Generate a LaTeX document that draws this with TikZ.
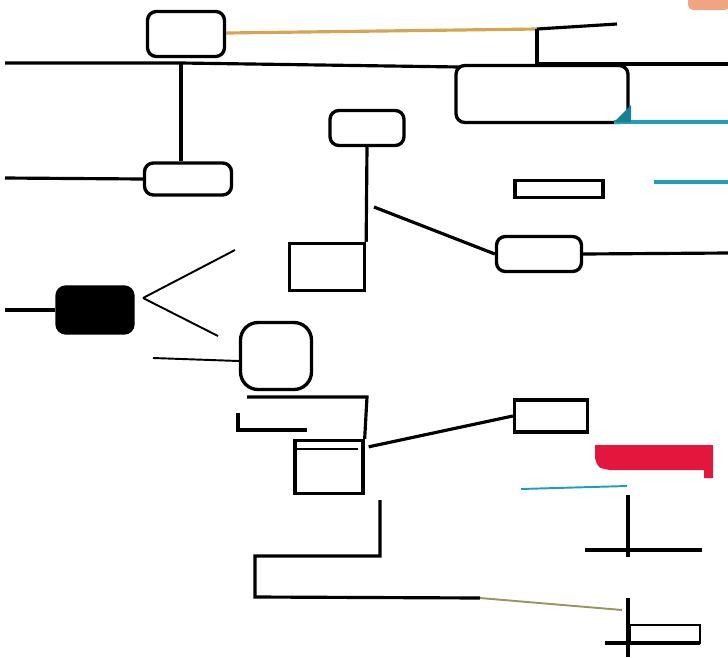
\documentclass[tikz,border=0pt]{standalone}
\usetikzlibrary{positioning,calc}
\definecolor{WireTeal}{RGB}{30,160,182}
\definecolor{WireRed}{RGB}{228,22,62}
\definecolor{WireOrange}{RGB}{214,165,80}
\definecolor{WireOlive}{RGB}{150,150,95}
\definecolor{TagPeach}{RGB}{240,165,130}
\tikzset{rbox/.style={draw, line width=1.9pt, rounded corners=5pt, inner sep=0pt},
	sbox/.style={draw, line width=1.9pt, inner sep=0pt},
	wire/.style={line width=1.8pt},
	fine/.style={line width=1.1pt}}

\begin{document}
\begin{tikzpicture}[x=0.02cm,y=-0.02cm]
	\useasboundingbox (0,0) rectangle (728,657);
	\fill[TagPeach, rounded corners=3pt] (688,-4) rectangle (730,10);
	% boxes
	\node[rbox, minimum width=1.54cm, minimum height=0.9cm] (router) at (186,34) {};
	\node[rbox, minimum width=1.74cm, minimum height=0.64cm] (hub) at (188,179) {};
	\node[rbox, minimum width=1.48cm, minimum height=0.7cm] (relay) at (367,128) {};
	\node[sbox, minimum width=1.5cm, minimum height=0.94cm] (panel) at (327,267) {};
	\node[rbox, minimum width=3.44cm, minimum height=1.14cm] (rack) at (542,94) {};
	\node[sbox, minimum width=1.76cm, minimum height=0.34cm] (slot) at (559,189) {};
	\node[rbox, minimum width=1.7cm, minimum height=0.7cm] (switch) at (539,254) {};
	\node[rbox, fill=black, minimum width=1.52cm, minimum height=0.92cm] (source) at (95,310) {};
	\node[rbox, rounded corners=10pt, minimum width=1.42cm, minimum height=1.34cm] (cloud) at (276,356) {};
	\node[sbox, minimum width=1.36cm, minimum height=1.06cm] (unit) at (329,467) {};
	\node[sbox, minimum width=1.46cm, minimum height=0.64cm] (tag) at (551,416) {};
	% free ends
	\coordinate (w1) at (5,63); \coordinate (w2) at (5,178); \coordinate (w3) at (5,310);
	\coordinate (bend) at (537,64); \coordinate (fork) at (143,298); \coordinate (knee) at (374,207);
	% wires
	\draw[wire] (w1) -- (181,63) -- (460,67);
	\draw[wire, WireOrange] (router.east |- 0,33) -- (537,29);
	\draw[wire] (537,29) -- (617,24);
	\draw[wire] (537,29) -- (bend) -- (728,64);
	\draw[wire] (181,63) -- (hub.north -| 181,0);
	\draw[wire] (w2) -- (hub.west);
	\draw[wire] (w3) -- (source.west);
	\draw[wire] (relay.south) -- (panel.north east);
	\draw[wire] (knee) -- (switch.west);
	\draw[wire] (switch.east) -- (728,253);
	\draw[wire, WireTeal] (654,182) -- (728,182);
	\draw[wire, WireTeal] (614,122) -- (728,122);
	\fill[WireTeal!80!black] (614,122) -- (631,122) -- (631,105) -- cycle;
	\draw[fine] (fork) -- (235,250);
	\draw[fine] (fork) -- (218,336);
	\draw[fine] (153,358) -- (cloud.west |- 0,361);
	\draw[wire] (247,397) -- (367,397) -- (unit.north east);
	\draw[wire] (238,413) -- (238,430) -- (307,430);
	\draw[fine] (unit.north west) ++(3,10) -- ++(62,0);
	\draw[wire] (unit.north east) ++(4,8) -- (tag.west);
	\fill[WireRed] (595,445) -- (713,445) -- (713,478) -- (704,478) -- (704,470) -- (610,470) .. controls (598,468) .. (595,458) -- cycle;
	\draw[fine, WireTeal] (521,489) -- (627,486);
	\draw[wire] (380,500) -- (380,556) -- (255,556) -- (255,597) -- (480,598);
	\draw[fine, WireOlive] (480,598) -- (622,610);
	% ticks
	\draw[wire] (628,495) -- (628,557);
	\draw[wire] (585,550) -- (702,550);
	\draw[wire] (628,598) -- (628,657);
	\draw[wire] (605,643) -- (700,643);
	\draw[fine] (630,625) rectangle (700,643);
\end{tikzpicture}
\end{document}
